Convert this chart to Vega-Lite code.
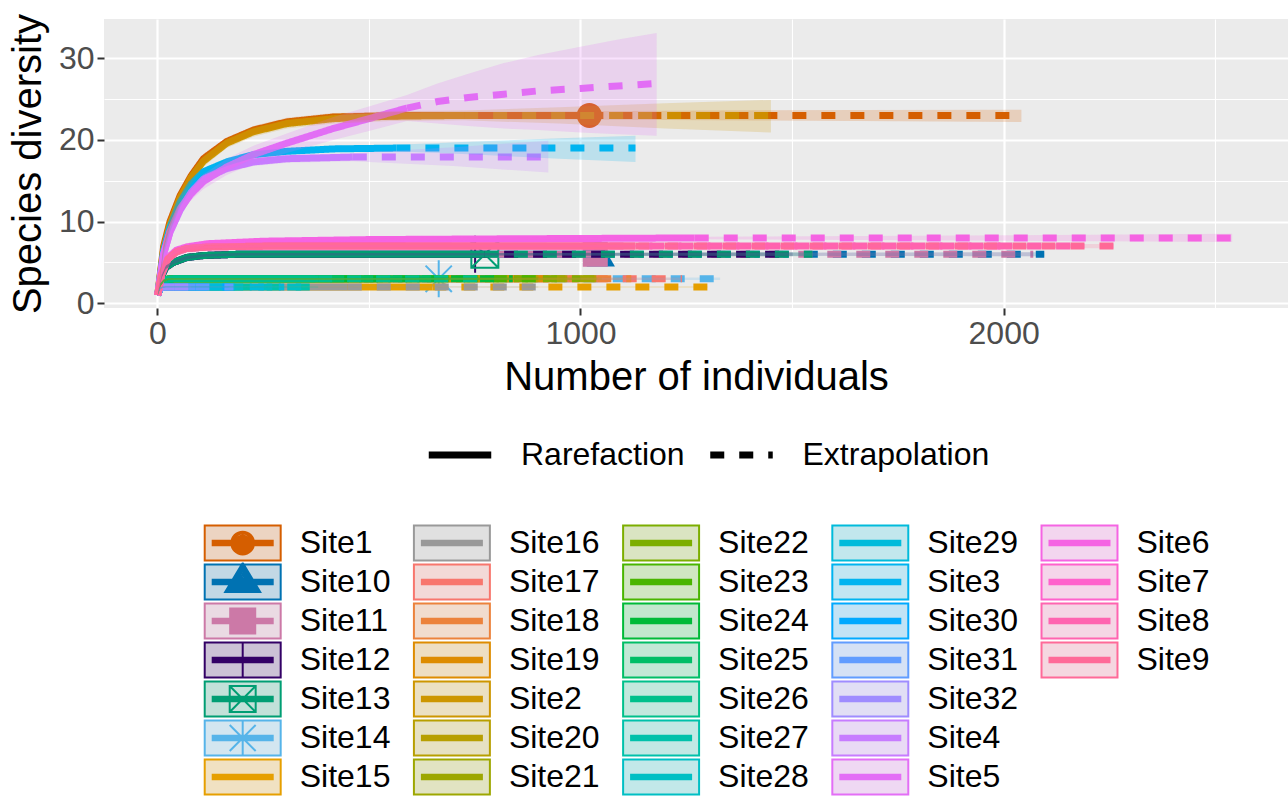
{
"$schema": "https://vega.github.io/schema/vega-lite/v6.json",
"width": 1184, "height": 289,
"autosize": {"type": "none"},
"padding": {"left": 104, "top": 19, "right": 0, "bottom": 488},
"background": "white",
"config": {"view": {"fill": "#EBEBEB", "stroke": null}, "font": "Liberation Sans"},
"resolve": {"scale": {"color": "independent"}},
"datasets": {
"obs": [
{"s":"Site1","x":1021,"y":23},{"s":"Site10","x":1048,"y":6},{"s":"Site11","x":1035,"y":6},{"s":"Site12","x":751,"y":6},{"s":"Site13","x":774,"y":6},{"s":"Site14","x":665,"y":3}
],
"curves": [
{"s":"Site1","m":"Rarefaction","x":1,"y":1,"lo":1,"hi":1},
{"s":"Site1","m":"Rarefaction","x":15,"y":7,"lo":6.5,"hi":7.5},
{"s":"Site1","m":"Rarefaction","x":30,"y":10,"lo":9.4,"hi":10.6},
{"s":"Site1","m":"Rarefaction","x":54,"y":13.2,"lo":12.6,"hi":13.8},
{"s":"Site1","m":"Rarefaction","x":80,"y":15.6,"lo":15,"hi":16.2},
{"s":"Site1","m":"Rarefaction","x":109,"y":17.7,"lo":17.1,"hi":18.3},
{"s":"Site1","m":"Rarefaction","x":164,"y":19.8,"lo":19.3,"hi":20.3},
{"s":"Site1","m":"Rarefaction","x":227,"y":21.2,"lo":20.7,"hi":21.7},
{"s":"Site1","m":"Rarefaction","x":306,"y":22.2,"lo":21.7,"hi":22.7},
{"s":"Site1","m":"Rarefaction","x":416,"y":22.8,"lo":22.3,"hi":23.3},
{"s":"Site1","m":"Rarefaction","x":600,"y":23,"lo":22.55,"hi":23.45},
{"s":"Site1","m":"Rarefaction","x":800,"y":23,"lo":22.55,"hi":23.45},
{"s":"Site1","m":"Rarefaction","x":1021,"y":23,"lo":22.5,"hi":23.5},
{"s":"Site1","m":"Extrapolation","x":1021,"y":23,"lo":22.5,"hi":23.5},
{"s":"Site1","m":"Extrapolation","x":1300,"y":23,"lo":22.4,"hi":23.6},
{"s":"Site1","m":"Extrapolation","x":1650,"y":23,"lo":22.3,"hi":23.65},
{"s":"Site1","m":"Extrapolation","x":2042,"y":23,"lo":22.2,"hi":23.7},

{"s":"Site10","m":"Rarefaction","x":1,"y":1,"lo":1,"hi":1},
{"s":"Site10","m":"Rarefaction","x":10,"y":3.3,"lo":3.1,"hi":3.5},
{"s":"Site10","m":"Rarefaction","x":20,"y":4.4,"lo":4.2,"hi":4.6},
{"s":"Site10","m":"Rarefaction","x":38,"y":5.0,"lo":4.8,"hi":5.2},
{"s":"Site10","m":"Rarefaction","x":69,"y":5.6,"lo":5.4,"hi":5.8},
{"s":"Site10","m":"Rarefaction","x":109,"y":5.85,"lo":5.7,"hi":6.0},
{"s":"Site10","m":"Rarefaction","x":190,"y":6,"lo":5.85,"hi":6.15},
{"s":"Site10","m":"Rarefaction","x":1048,"y":6,"lo":5.85,"hi":6.15},
{"s":"Site10","m":"Extrapolation","x":1048,"y":6,"lo":5.85,"hi":6.15},
{"s":"Site10","m":"Extrapolation","x":2096,"y":6,"lo":5.75,"hi":6.25},

{"s":"Site11","m":"Rarefaction","x":1,"y":1,"lo":1,"hi":1},
{"s":"Site11","m":"Rarefaction","x":10,"y":3.3,"lo":3.1,"hi":3.5},
{"s":"Site11","m":"Rarefaction","x":20,"y":4.4,"lo":4.2,"hi":4.6},
{"s":"Site11","m":"Rarefaction","x":38,"y":5.0,"lo":4.8,"hi":5.2},
{"s":"Site11","m":"Rarefaction","x":69,"y":5.6,"lo":5.4,"hi":5.8},
{"s":"Site11","m":"Rarefaction","x":109,"y":5.85,"lo":5.7,"hi":6.0},
{"s":"Site11","m":"Rarefaction","x":190,"y":6,"lo":5.85,"hi":6.15},
{"s":"Site11","m":"Rarefaction","x":1035,"y":6,"lo":5.85,"hi":6.15},
{"s":"Site11","m":"Extrapolation","x":1035,"y":6,"lo":5.85,"hi":6.15},
{"s":"Site11","m":"Extrapolation","x":2070,"y":6,"lo":5.75,"hi":6.25},

{"s":"Site12","m":"Rarefaction","x":1,"y":1,"lo":1,"hi":1},
{"s":"Site12","m":"Rarefaction","x":10,"y":3.3,"lo":3.1,"hi":3.5},
{"s":"Site12","m":"Rarefaction","x":20,"y":4.4,"lo":4.2,"hi":4.6},
{"s":"Site12","m":"Rarefaction","x":38,"y":5.0,"lo":4.8,"hi":5.2},
{"s":"Site12","m":"Rarefaction","x":69,"y":5.6,"lo":5.4,"hi":5.8},
{"s":"Site12","m":"Rarefaction","x":109,"y":5.85,"lo":5.7,"hi":6.0},
{"s":"Site12","m":"Rarefaction","x":190,"y":6,"lo":5.85,"hi":6.15},
{"s":"Site12","m":"Rarefaction","x":751,"y":6,"lo":5.85,"hi":6.15},
{"s":"Site12","m":"Extrapolation","x":751,"y":6,"lo":5.85,"hi":6.15},
{"s":"Site12","m":"Extrapolation","x":1502,"y":6,"lo":5.75,"hi":6.25},

{"s":"Site13","m":"Rarefaction","x":1,"y":1,"lo":1,"hi":1},
{"s":"Site13","m":"Rarefaction","x":10,"y":3.3,"lo":3.1,"hi":3.5},
{"s":"Site13","m":"Rarefaction","x":20,"y":4.4,"lo":4.2,"hi":4.6},
{"s":"Site13","m":"Rarefaction","x":38,"y":5.0,"lo":4.8,"hi":5.2},
{"s":"Site13","m":"Rarefaction","x":69,"y":5.6,"lo":5.4,"hi":5.8},
{"s":"Site13","m":"Rarefaction","x":109,"y":5.85,"lo":5.7,"hi":6.0},
{"s":"Site13","m":"Rarefaction","x":190,"y":6,"lo":5.85,"hi":6.15},
{"s":"Site13","m":"Rarefaction","x":774,"y":6,"lo":5.85,"hi":6.15},
{"s":"Site13","m":"Extrapolation","x":774,"y":6,"lo":5.85,"hi":6.15},
{"s":"Site13","m":"Extrapolation","x":1548,"y":6,"lo":5.75,"hi":6.25},

{"s":"Site14","m":"Rarefaction","x":1,"y":1,"lo":1,"hi":1},
{"s":"Site14","m":"Rarefaction","x":8,"y":2.3,"lo":2.15,"hi":2.45},
{"s":"Site14","m":"Rarefaction","x":15,"y":2.75,"lo":2.6,"hi":2.9},
{"s":"Site14","m":"Rarefaction","x":25,"y":2.95,"lo":2.85,"hi":3.05},
{"s":"Site14","m":"Rarefaction","x":40,"y":3,"lo":2.9,"hi":3.1},
{"s":"Site14","m":"Rarefaction","x":665,"y":3,"lo":2.9,"hi":3.1},
{"s":"Site14","m":"Extrapolation","x":665,"y":3,"lo":2.9,"hi":3.1},
{"s":"Site14","m":"Extrapolation","x":1330,"y":3,"lo":2.85,"hi":3.15},

{"s":"Site15","m":"Rarefaction","x":1,"y":1,"lo":1,"hi":1},
{"s":"Site15","m":"Rarefaction","x":6,"y":1.8,"lo":1.7,"hi":1.9},
{"s":"Site15","m":"Rarefaction","x":12,"y":1.97,"lo":1.9,"hi":2.04},
{"s":"Site15","m":"Rarefaction","x":20,"y":2,"lo":1.95,"hi":2.05},
{"s":"Site15","m":"Rarefaction","x":650,"y":2,"lo":1.95,"hi":2.05},
{"s":"Site15","m":"Extrapolation","x":650,"y":2,"lo":1.95,"hi":2.05},
{"s":"Site15","m":"Extrapolation","x":1300,"y":2,"lo":1.9,"hi":2.1},

{"s":"Site16","m":"Rarefaction","x":1,"y":1,"lo":1,"hi":1},
{"s":"Site16","m":"Rarefaction","x":6,"y":1.8,"lo":1.7,"hi":1.9},
{"s":"Site16","m":"Rarefaction","x":12,"y":1.97,"lo":1.9,"hi":2.04},
{"s":"Site16","m":"Rarefaction","x":20,"y":2,"lo":1.95,"hi":2.05},
{"s":"Site16","m":"Rarefaction","x":450,"y":2,"lo":1.95,"hi":2.05},
{"s":"Site16","m":"Extrapolation","x":450,"y":2,"lo":1.95,"hi":2.05},
{"s":"Site16","m":"Extrapolation","x":900,"y":2,"lo":1.9,"hi":2.1},

{"s":"Site17","m":"Rarefaction","x":1,"y":1,"lo":1,"hi":1},
{"s":"Site17","m":"Rarefaction","x":8,"y":2.3,"lo":2.15,"hi":2.45},
{"s":"Site17","m":"Rarefaction","x":15,"y":2.75,"lo":2.6,"hi":2.9},
{"s":"Site17","m":"Rarefaction","x":25,"y":2.95,"lo":2.85,"hi":3.05},
{"s":"Site17","m":"Rarefaction","x":40,"y":3,"lo":2.9,"hi":3.1},
{"s":"Site17","m":"Rarefaction","x":620,"y":3,"lo":2.9,"hi":3.1},
{"s":"Site17","m":"Extrapolation","x":620,"y":3,"lo":2.9,"hi":3.1},
{"s":"Site17","m":"Extrapolation","x":1240,"y":3,"lo":2.85,"hi":3.15},

{"s":"Site18","m":"Rarefaction","x":1,"y":1,"lo":1,"hi":1},
{"s":"Site18","m":"Rarefaction","x":8,"y":2.3,"lo":2.15,"hi":2.45},
{"s":"Site18","m":"Rarefaction","x":15,"y":2.75,"lo":2.6,"hi":2.9},
{"s":"Site18","m":"Rarefaction","x":25,"y":2.95,"lo":2.85,"hi":3.05},
{"s":"Site18","m":"Rarefaction","x":40,"y":3,"lo":2.9,"hi":3.1},
{"s":"Site18","m":"Rarefaction","x":560,"y":3,"lo":2.9,"hi":3.1},
{"s":"Site18","m":"Extrapolation","x":560,"y":3,"lo":2.9,"hi":3.1},
{"s":"Site18","m":"Extrapolation","x":1120,"y":3,"lo":2.85,"hi":3.15},

{"s":"Site19","m":"Rarefaction","x":1,"y":1,"lo":1,"hi":1},
{"s":"Site19","m":"Rarefaction","x":8,"y":2.3,"lo":2.15,"hi":2.45},
{"s":"Site19","m":"Rarefaction","x":15,"y":2.75,"lo":2.6,"hi":2.9},
{"s":"Site19","m":"Rarefaction","x":25,"y":2.95,"lo":2.85,"hi":3.05},
{"s":"Site19","m":"Rarefaction","x":40,"y":3,"lo":2.9,"hi":3.1},
{"s":"Site19","m":"Rarefaction","x":480,"y":3,"lo":2.9,"hi":3.1},
{"s":"Site19","m":"Extrapolation","x":480,"y":3,"lo":2.9,"hi":3.1},
{"s":"Site19","m":"Extrapolation","x":960,"y":3,"lo":2.85,"hi":3.15},

{"s":"Site2","m":"Rarefaction","x":1,"y":1,"lo":1,"hi":1},
{"s":"Site2","m":"Rarefaction","x":15,"y":6.6,"lo":6.0,"hi":7.2},
{"s":"Site2","m":"Rarefaction","x":30,"y":9.6,"lo":8.8,"hi":10.4},
{"s":"Site2","m":"Rarefaction","x":54,"y":12.9,"lo":12.1,"hi":13.7},
{"s":"Site2","m":"Rarefaction","x":80,"y":15.4,"lo":14.6,"hi":16.2},
{"s":"Site2","m":"Rarefaction","x":109,"y":17.4,"lo":16.7,"hi":18.1},
{"s":"Site2","m":"Rarefaction","x":164,"y":19.6,"lo":19.0,"hi":20.2},
{"s":"Site2","m":"Rarefaction","x":227,"y":21.0,"lo":20.4,"hi":21.6},
{"s":"Site2","m":"Rarefaction","x":306,"y":22.0,"lo":21.4,"hi":22.6},
{"s":"Site2","m":"Rarefaction","x":416,"y":22.6,"lo":22.0,"hi":23.2},
{"s":"Site2","m":"Rarefaction","x":550,"y":22.9,"lo":22.3,"hi":23.5},
{"s":"Site2","m":"Rarefaction","x":725,"y":23,"lo":22.4,"hi":23.6},
{"s":"Site2","m":"Extrapolation","x":725,"y":23,"lo":22.4,"hi":23.6},
{"s":"Site2","m":"Extrapolation","x":950,"y":23,"lo":22.0,"hi":24.0},
{"s":"Site2","m":"Extrapolation","x":1200,"y":23,"lo":21.4,"hi":24.5},
{"s":"Site2","m":"Extrapolation","x":1450,"y":23,"lo":20.9,"hi":24.9},

{"s":"Site20","m":"Rarefaction","x":1,"y":1,"lo":1,"hi":1},
{"s":"Site20","m":"Rarefaction","x":8,"y":2.3,"lo":2.15,"hi":2.45},
{"s":"Site20","m":"Rarefaction","x":15,"y":2.75,"lo":2.6,"hi":2.9},
{"s":"Site20","m":"Rarefaction","x":25,"y":2.95,"lo":2.85,"hi":3.05},
{"s":"Site20","m":"Rarefaction","x":40,"y":3,"lo":2.9,"hi":3.1},
{"s":"Site20","m":"Rarefaction","x":525,"y":3,"lo":2.9,"hi":3.1},
{"s":"Site20","m":"Extrapolation","x":525,"y":3,"lo":2.9,"hi":3.1},
{"s":"Site20","m":"Extrapolation","x":1050,"y":3,"lo":2.85,"hi":3.15},

{"s":"Site21","m":"Rarefaction","x":1,"y":1,"lo":1,"hi":1},
{"s":"Site21","m":"Rarefaction","x":8,"y":2.3,"lo":2.15,"hi":2.45},
{"s":"Site21","m":"Rarefaction","x":15,"y":2.75,"lo":2.6,"hi":2.9},
{"s":"Site21","m":"Rarefaction","x":25,"y":2.95,"lo":2.85,"hi":3.05},
{"s":"Site21","m":"Rarefaction","x":40,"y":3,"lo":2.9,"hi":3.1},
{"s":"Site21","m":"Rarefaction","x":520,"y":3,"lo":2.9,"hi":3.1},
{"s":"Site21","m":"Extrapolation","x":520,"y":3,"lo":2.9,"hi":3.1},
{"s":"Site21","m":"Extrapolation","x":1040,"y":3,"lo":2.85,"hi":3.15},

{"s":"Site22","m":"Rarefaction","x":1,"y":1,"lo":1,"hi":1},
{"s":"Site22","m":"Rarefaction","x":8,"y":2.3,"lo":2.15,"hi":2.45},
{"s":"Site22","m":"Rarefaction","x":15,"y":2.75,"lo":2.6,"hi":2.9},
{"s":"Site22","m":"Rarefaction","x":25,"y":2.95,"lo":2.85,"hi":3.05},
{"s":"Site22","m":"Rarefaction","x":40,"y":3,"lo":2.9,"hi":3.1},
{"s":"Site22","m":"Rarefaction","x":500,"y":3,"lo":2.9,"hi":3.1},
{"s":"Site22","m":"Extrapolation","x":500,"y":3,"lo":2.9,"hi":3.1},
{"s":"Site22","m":"Extrapolation","x":1000,"y":3,"lo":2.85,"hi":3.15},

{"s":"Site23","m":"Rarefaction","x":1,"y":1,"lo":1,"hi":1},
{"s":"Site23","m":"Rarefaction","x":8,"y":2.3,"lo":2.15,"hi":2.45},
{"s":"Site23","m":"Rarefaction","x":15,"y":2.75,"lo":2.6,"hi":2.9},
{"s":"Site23","m":"Rarefaction","x":25,"y":2.95,"lo":2.85,"hi":3.05},
{"s":"Site23","m":"Rarefaction","x":40,"y":3,"lo":2.9,"hi":3.1},
{"s":"Site23","m":"Rarefaction","x":450,"y":3,"lo":2.9,"hi":3.1},
{"s":"Site23","m":"Extrapolation","x":450,"y":3,"lo":2.9,"hi":3.1},
{"s":"Site23","m":"Extrapolation","x":900,"y":3,"lo":2.85,"hi":3.15},

{"s":"Site24","m":"Rarefaction","x":1,"y":1,"lo":1,"hi":1},
{"s":"Site24","m":"Rarefaction","x":8,"y":2.3,"lo":2.15,"hi":2.45},
{"s":"Site24","m":"Rarefaction","x":15,"y":2.75,"lo":2.6,"hi":2.9},
{"s":"Site24","m":"Rarefaction","x":25,"y":2.95,"lo":2.85,"hi":3.05},
{"s":"Site24","m":"Rarefaction","x":40,"y":3,"lo":2.9,"hi":3.1},
{"s":"Site24","m":"Rarefaction","x":420,"y":3,"lo":2.9,"hi":3.1},
{"s":"Site24","m":"Extrapolation","x":420,"y":3,"lo":2.9,"hi":3.1},
{"s":"Site24","m":"Extrapolation","x":840,"y":3,"lo":2.85,"hi":3.15},

{"s":"Site25","m":"Rarefaction","x":1,"y":1,"lo":1,"hi":1},
{"s":"Site25","m":"Rarefaction","x":8,"y":2.3,"lo":2.15,"hi":2.45},
{"s":"Site25","m":"Rarefaction","x":15,"y":2.75,"lo":2.6,"hi":2.9},
{"s":"Site25","m":"Rarefaction","x":25,"y":2.95,"lo":2.85,"hi":3.05},
{"s":"Site25","m":"Rarefaction","x":40,"y":3,"lo":2.9,"hi":3.1},
{"s":"Site25","m":"Rarefaction","x":340,"y":3,"lo":2.9,"hi":3.1},
{"s":"Site25","m":"Extrapolation","x":340,"y":3,"lo":2.9,"hi":3.1},
{"s":"Site25","m":"Extrapolation","x":680,"y":3,"lo":2.85,"hi":3.15},

{"s":"Site26","m":"Rarefaction","x":1,"y":1,"lo":1,"hi":1},
{"s":"Site26","m":"Rarefaction","x":8,"y":2.3,"lo":2.15,"hi":2.45},
{"s":"Site26","m":"Rarefaction","x":15,"y":2.75,"lo":2.6,"hi":2.9},
{"s":"Site26","m":"Rarefaction","x":25,"y":2.95,"lo":2.85,"hi":3.05},
{"s":"Site26","m":"Rarefaction","x":40,"y":3,"lo":2.9,"hi":3.1},
{"s":"Site26","m":"Rarefaction","x":380,"y":3,"lo":2.9,"hi":3.1},
{"s":"Site26","m":"Extrapolation","x":380,"y":3,"lo":2.9,"hi":3.1},
{"s":"Site26","m":"Extrapolation","x":760,"y":3,"lo":2.85,"hi":3.15},

{"s":"Site27","m":"Rarefaction","x":1,"y":1,"lo":1,"hi":1},
{"s":"Site27","m":"Rarefaction","x":6,"y":1.8,"lo":1.7,"hi":1.9},
{"s":"Site27","m":"Rarefaction","x":12,"y":1.97,"lo":1.9,"hi":2.04},
{"s":"Site27","m":"Rarefaction","x":20,"y":2,"lo":1.95,"hi":2.05},
{"s":"Site27","m":"Rarefaction","x":190,"y":2,"lo":1.95,"hi":2.05},
{"s":"Site27","m":"Extrapolation","x":190,"y":2,"lo":1.95,"hi":2.05},
{"s":"Site27","m":"Extrapolation","x":380,"y":2,"lo":1.9,"hi":2.1},

{"s":"Site28","m":"Rarefaction","x":1,"y":1,"lo":1,"hi":1},
{"s":"Site28","m":"Rarefaction","x":6,"y":1.8,"lo":1.7,"hi":1.9},
{"s":"Site28","m":"Rarefaction","x":12,"y":1.97,"lo":1.9,"hi":2.04},
{"s":"Site28","m":"Rarefaction","x":20,"y":2,"lo":1.95,"hi":2.05},
{"s":"Site28","m":"Rarefaction","x":170,"y":2,"lo":1.95,"hi":2.05},
{"s":"Site28","m":"Extrapolation","x":170,"y":2,"lo":1.95,"hi":2.05},
{"s":"Site28","m":"Extrapolation","x":340,"y":2,"lo":1.9,"hi":2.1},

{"s":"Site29","m":"Rarefaction","x":1,"y":1,"lo":1,"hi":1},
{"s":"Site29","m":"Rarefaction","x":6,"y":1.8,"lo":1.7,"hi":1.9},
{"s":"Site29","m":"Rarefaction","x":12,"y":1.97,"lo":1.9,"hi":2.04},
{"s":"Site29","m":"Rarefaction","x":20,"y":2,"lo":1.95,"hi":2.05},
{"s":"Site29","m":"Rarefaction","x":150,"y":2,"lo":1.95,"hi":2.05},
{"s":"Site29","m":"Extrapolation","x":150,"y":2,"lo":1.95,"hi":2.05},
{"s":"Site29","m":"Extrapolation","x":300,"y":2,"lo":1.9,"hi":2.1},

{"s":"Site3","m":"Rarefaction","x":1,"y":1,"lo":1,"hi":1},
{"s":"Site3","m":"Rarefaction","x":15,"y":6.4,"lo":5.9,"hi":6.9},
{"s":"Site3","m":"Rarefaction","x":30,"y":9.3,"lo":8.7,"hi":9.9},
{"s":"Site3","m":"Rarefaction","x":54,"y":12.4,"lo":11.8,"hi":13.0},
{"s":"Site3","m":"Rarefaction","x":80,"y":14.6,"lo":14.0,"hi":15.2},
{"s":"Site3","m":"Rarefaction","x":109,"y":16.1,"lo":15.6,"hi":16.6},
{"s":"Site3","m":"Rarefaction","x":164,"y":17.3,"lo":16.8,"hi":17.8},
{"s":"Site3","m":"Rarefaction","x":227,"y":18.2,"lo":17.8,"hi":18.6},
{"s":"Site3","m":"Rarefaction","x":306,"y":18.6,"lo":18.2,"hi":19.0},
{"s":"Site3","m":"Rarefaction","x":416,"y":18.9,"lo":18.5,"hi":19.3},
{"s":"Site3","m":"Rarefaction","x":565,"y":19,"lo":18.6,"hi":19.4},
{"s":"Site3","m":"Extrapolation","x":565,"y":19,"lo":18.6,"hi":19.4},
{"s":"Site3","m":"Extrapolation","x":750,"y":19,"lo":18.2,"hi":19.8},
{"s":"Site3","m":"Extrapolation","x":950,"y":19,"lo":17.7,"hi":20.2},
{"s":"Site3","m":"Extrapolation","x":1130,"y":19,"lo":17.3,"hi":20.5},

{"s":"Site30","m":"Rarefaction","x":1,"y":1,"lo":1,"hi":1},
{"s":"Site30","m":"Rarefaction","x":6,"y":1.8,"lo":1.7,"hi":1.9},
{"s":"Site30","m":"Rarefaction","x":12,"y":1.97,"lo":1.9,"hi":2.04},
{"s":"Site30","m":"Rarefaction","x":20,"y":2,"lo":1.95,"hi":2.05},
{"s":"Site30","m":"Rarefaction","x":85,"y":2,"lo":1.95,"hi":2.05},
{"s":"Site30","m":"Extrapolation","x":85,"y":2,"lo":1.95,"hi":2.05},
{"s":"Site30","m":"Extrapolation","x":170,"y":2,"lo":1.9,"hi":2.1},

{"s":"Site31","m":"Rarefaction","x":1,"y":1,"lo":1,"hi":1},
{"s":"Site31","m":"Rarefaction","x":6,"y":1.8,"lo":1.7,"hi":1.9},
{"s":"Site31","m":"Rarefaction","x":12,"y":1.97,"lo":1.9,"hi":2.04},
{"s":"Site31","m":"Rarefaction","x":20,"y":2,"lo":1.95,"hi":2.05},
{"s":"Site31","m":"Rarefaction","x":90,"y":2,"lo":1.95,"hi":2.05},
{"s":"Site31","m":"Extrapolation","x":90,"y":2,"lo":1.95,"hi":2.05},
{"s":"Site31","m":"Extrapolation","x":180,"y":2,"lo":1.9,"hi":2.1},

{"s":"Site32","m":"Rarefaction","x":1,"y":1,"lo":1,"hi":1},
{"s":"Site32","m":"Rarefaction","x":6,"y":1.8,"lo":1.7,"hi":1.9},
{"s":"Site32","m":"Rarefaction","x":12,"y":1.97,"lo":1.9,"hi":2.04},
{"s":"Site32","m":"Rarefaction","x":20,"y":2,"lo":1.95,"hi":2.05},
{"s":"Site32","m":"Rarefaction","x":40,"y":2,"lo":1.95,"hi":2.05},
{"s":"Site32","m":"Extrapolation","x":40,"y":2,"lo":1.95,"hi":2.05},
{"s":"Site32","m":"Extrapolation","x":80,"y":2,"lo":1.9,"hi":2.1},

{"s":"Site4","m":"Rarefaction","x":1,"y":1,"lo":1,"hi":1},
{"s":"Site4","m":"Rarefaction","x":15,"y":6.1,"lo":5.6,"hi":6.6},
{"s":"Site4","m":"Rarefaction","x":30,"y":8.7,"lo":8.1,"hi":9.3},
{"s":"Site4","m":"Rarefaction","x":54,"y":11.4,"lo":10.8,"hi":12.0},
{"s":"Site4","m":"Rarefaction","x":80,"y":13.6,"lo":13.0,"hi":14.2},
{"s":"Site4","m":"Rarefaction","x":109,"y":15.2,"lo":14.6,"hi":15.8},
{"s":"Site4","m":"Rarefaction","x":164,"y":16.5,"lo":16.0,"hi":17.0},
{"s":"Site4","m":"Rarefaction","x":227,"y":17.3,"lo":16.8,"hi":17.8},
{"s":"Site4","m":"Rarefaction","x":306,"y":17.7,"lo":17.2,"hi":18.2},
{"s":"Site4","m":"Rarefaction","x":462,"y":17.9,"lo":17.4,"hi":18.4},
{"s":"Site4","m":"Extrapolation","x":462,"y":17.9,"lo":17.4,"hi":18.4},
{"s":"Site4","m":"Extrapolation","x":700,"y":17.9,"lo":16.8,"hi":19.1},
{"s":"Site4","m":"Extrapolation","x":924,"y":17.9,"lo":16.0,"hi":19.9},

{"s":"Site5","m":"Rarefaction","x":1,"y":1,"lo":1,"hi":1},
{"s":"Site5","m":"Rarefaction","x":15,"y":6.0,"lo":5.5,"hi":6.5},
{"s":"Site5","m":"Rarefaction","x":30,"y":8.8,"lo":8.2,"hi":9.4},
{"s":"Site5","m":"Rarefaction","x":54,"y":11.6,"lo":10.9,"hi":12.3},
{"s":"Site5","m":"Rarefaction","x":80,"y":13.4,"lo":12.6,"hi":14.2},
{"s":"Site5","m":"Rarefaction","x":109,"y":14.9,"lo":14.0,"hi":15.8},
{"s":"Site5","m":"Rarefaction","x":164,"y":16.7,"lo":15.7,"hi":17.7},
{"s":"Site5","m":"Rarefaction","x":227,"y":18.2,"lo":17.1,"hi":19.3},
{"s":"Site5","m":"Rarefaction","x":306,"y":19.6,"lo":18.4,"hi":20.8},
{"s":"Site5","m":"Rarefaction","x":416,"y":21.4,"lo":20.0,"hi":22.8},
{"s":"Site5","m":"Rarefaction","x":500,"y":22.6,"lo":21.1,"hi":24.1},
{"s":"Site5","m":"Rarefaction","x":590,"y":23.9,"lo":22.3,"hi":25.5},
{"s":"Site5","m":"Extrapolation","x":590,"y":23.9,"lo":22.3,"hi":25.5},
{"s":"Site5","m":"Extrapolation","x":662,"y":24.7,"lo":22.0,"hi":26.9},
{"s":"Site5","m":"Extrapolation","x":735,"y":25.2,"lo":21.7,"hi":28.1},
{"s":"Site5","m":"Extrapolation","x":819,"y":25.6,"lo":21.4,"hi":29.4},
{"s":"Site5","m":"Extrapolation","x":900,"y":26.0,"lo":21.2,"hi":30.4},
{"s":"Site5","m":"Extrapolation","x":1000,"y":26.3,"lo":20.9,"hi":31.4},
{"s":"Site5","m":"Extrapolation","x":1089,"y":26.6,"lo":20.7,"hi":32.3},
{"s":"Site5","m":"Extrapolation","x":1180,"y":26.9,"lo":20.5,"hi":33.1},

{"s":"Site6","m":"Rarefaction","x":1,"y":1,"lo":1,"hi":1},
{"s":"Site6","m":"Rarefaction","x":10,"y":3.6,"lo":3.4,"hi":3.8},
{"s":"Site6","m":"Rarefaction","x":25,"y":5.6,"lo":5.4,"hi":5.8},
{"s":"Site6","m":"Rarefaction","x":45,"y":6.5,"lo":6.3,"hi":6.7},
{"s":"Site6","m":"Rarefaction","x":69,"y":6.9,"lo":6.7,"hi":7.1},
{"s":"Site6","m":"Rarefaction","x":120,"y":7.3,"lo":7.15,"hi":7.45},
{"s":"Site6","m":"Rarefaction","x":250,"y":7.6,"lo":7.45,"hi":7.75},
{"s":"Site6","m":"Rarefaction","x":500,"y":7.8,"lo":7.65,"hi":7.95},
{"s":"Site6","m":"Rarefaction","x":850,"y":7.9,"lo":7.75,"hi":8.05},
{"s":"Site6","m":"Rarefaction","x":1270,"y":8,"lo":7.85,"hi":8.15},
{"s":"Site6","m":"Extrapolation","x":1270,"y":8,"lo":7.85,"hi":8.15},
{"s":"Site6","m":"Extrapolation","x":1900,"y":8,"lo":7.7,"hi":8.3},
{"s":"Site6","m":"Extrapolation","x":2540,"y":8,"lo":7.5,"hi":8.5},

{"s":"Site7","m":"Rarefaction","x":1,"y":1,"lo":1,"hi":1},
{"s":"Site7","m":"Rarefaction","x":10,"y":3.5,"lo":3.3,"hi":3.7},
{"s":"Site7","m":"Rarefaction","x":25,"y":5.4,"lo":5.2,"hi":5.6},
{"s":"Site7","m":"Rarefaction","x":45,"y":6.3,"lo":6.1,"hi":6.5},
{"s":"Site7","m":"Rarefaction","x":69,"y":6.7,"lo":6.5,"hi":6.9},
{"s":"Site7","m":"Rarefaction","x":120,"y":6.9,"lo":6.75,"hi":7.05},
{"s":"Site7","m":"Rarefaction","x":250,"y":7,"lo":6.85,"hi":7.15},
{"s":"Site7","m":"Rarefaction","x":1000,"y":7,"lo":6.85,"hi":7.15},
{"s":"Site7","m":"Extrapolation","x":1000,"y":7,"lo":6.85,"hi":7.15},
{"s":"Site7","m":"Extrapolation","x":2000,"y":7,"lo":6.75,"hi":7.25},

{"s":"Site8","m":"Rarefaction","x":1,"y":1,"lo":1,"hi":1},
{"s":"Site8","m":"Rarefaction","x":10,"y":3.5,"lo":3.3,"hi":3.7},
{"s":"Site8","m":"Rarefaction","x":25,"y":5.4,"lo":5.2,"hi":5.6},
{"s":"Site8","m":"Rarefaction","x":45,"y":6.3,"lo":6.1,"hi":6.5},
{"s":"Site8","m":"Rarefaction","x":69,"y":6.7,"lo":6.5,"hi":6.9},
{"s":"Site8","m":"Rarefaction","x":120,"y":6.9,"lo":6.75,"hi":7.05},
{"s":"Site8","m":"Rarefaction","x":250,"y":7,"lo":6.85,"hi":7.15},
{"s":"Site8","m":"Rarefaction","x":1096,"y":7,"lo":6.85,"hi":7.15},
{"s":"Site8","m":"Extrapolation","x":1096,"y":7,"lo":6.85,"hi":7.15},
{"s":"Site8","m":"Extrapolation","x":2192,"y":7,"lo":6.75,"hi":7.25},

{"s":"Site9","m":"Rarefaction","x":1,"y":1,"lo":1,"hi":1},
{"s":"Site9","m":"Rarefaction","x":10,"y":3.5,"lo":3.3,"hi":3.7},
{"s":"Site9","m":"Rarefaction","x":25,"y":5.4,"lo":5.2,"hi":5.6},
{"s":"Site9","m":"Rarefaction","x":45,"y":6.3,"lo":6.1,"hi":6.5},
{"s":"Site9","m":"Rarefaction","x":69,"y":6.7,"lo":6.5,"hi":6.9},
{"s":"Site9","m":"Rarefaction","x":120,"y":6.9,"lo":6.75,"hi":7.05},
{"s":"Site9","m":"Rarefaction","x":250,"y":7,"lo":6.85,"hi":7.15},
{"s":"Site9","m":"Rarefaction","x":1130,"y":7,"lo":6.85,"hi":7.15},
{"s":"Site9","m":"Extrapolation","x":1130,"y":7,"lo":6.85,"hi":7.15},
{"s":"Site9","m":"Extrapolation","x":2260,"y":7,"lo":6.75,"hi":7.25}
]
},
"layer": [
{
"data": {"name": "curves"},
"transform": [{"filter": "datum.x < -5000"}],
"mark": {"type": "point", "filled": true, "opacity": 1, "strokeWidth": 2, "size": 6084},
"encoding": {
"x": {"field": "x", "type": "quantitative", "scale": {"domain": [-126, 2672], "nice": false, "zero": false},
 "axis": {"title": "Number of individuals", "values": [0,500,1000,1500,2000,2500], "format": "d",
  "labelExpr": "datum.value % 1000 === 0 ? datum.label : ''", "labelOverlap": false, "labelFlush": false,
  "grid": true, "gridColor": "white", "gridWidth": {"condition": {"test": "datum.value % 1000 === 0", "value": 2.2}, "value": 1.1},
  "domain": false, "tickColor": "#333333", "tickSize": 7, "tickWidth": 2,
  "tickOpacity": {"condition": {"test": "datum.value % 1000 === 0", "value": 1}, "value": 0},
  "labelFont": "Liberation Sans", "labelFontSize": 32, "labelColor": "#4D4D4D", "labelPadding": 3,
  "titleFont": "Liberation Sans", "titleFontSize": 40, "titleFontWeight": "normal", "titleColor": "black", "titlePadding": 8}},
"y": {"field": "y", "type": "quantitative", "scale": {"domain": [-0.575, 34.8], "nice": false, "zero": false},
 "axis": {"title": "Species diversity", "values": [0,5,10,15,20,25,30], "format": "d",
  "labelExpr": "datum.value % 10 === 0 ? datum.label : ''", "labelOverlap": false, "labelFlush": false,
  "grid": true, "gridColor": "white", "gridWidth": {"condition": {"test": "datum.value % 10 === 0", "value": 2.2}, "value": 1.1},
  "domain": false, "tickColor": "#333333", "tickSize": 7, "tickWidth": 2,
  "tickOpacity": {"condition": {"test": "datum.value % 10 === 0", "value": 1}, "value": 0},
  "labelFont": "Liberation Sans", "labelFontSize": 32, "labelColor": "#4D4D4D", "labelPadding": 3,
  "titleFont": "Liberation Sans", "titleFontSize": 40, "titleFontWeight": "normal", "titleColor": "black", "titlePadding": 10}},
"fill": {"field": "s", "type": "nominal",
 "scale": {"domain": ["Site1","Site10","Site11","Site12","Site13","Site14","Site15","Site16","Site17","Site18","Site19","Site2","Site20","Site21","Site22","Site23","Site24","Site25","Site26","Site27","Site28","Site29","Site3","Site30","Site31","Site32","Site4","Site5","Site6","Site7","Site8","Site9","zpad1","zpad2"],
  "range": ["#ECD4C2","#C2D8E5","#EADAE3","#CCC2D6","#C2E1D9","#D3E6F0","#F0E1C2","#E0E0E0","#F3D9D7","#F1DCCE","#EEDEC2","#EBE0C2","#E6E1C2","#E1E3C2","#DAE4C2","#D0E6C2","#C2E7CD","#C2E8D6","#C2E8DD","#C2E8E4","#C2E8E9","#C2E7ED","#C2E6F2","#C2E3F5","#D5E1F5","#E1DEF5","#E9DAF5","#EFD8F3","#F3D6EF","#F5D5EA","#F5D6E5","#F5D7E0","rgba(0,0,0,0)","rgba(0,0,0,0)"]},
 "legend": {"title": null, "orient": "none", "direction": "vertical", "columns": 5, "symbolLimit": 40, "legendX": 98.7, "legendY": 504.6, "clipHeight": 38.8, "symbolSize": 6084, "symbolStrokeWidth": 2, "symbolOpacity": 1, "labelFont": "Liberation Sans", "labelFontSize": 32, "labelColor": "black", "labelOffset": 17, "labelLimit": 0, "columnPadding": 21.2, "rowPadding": 0, "padding": 0, "labelExpr": "indexof(datum.label, 'zpad') === 0 ? '' : datum.label"}},
"stroke": {"field": "s", "type": "nominal",
 "scale": {"domain": ["Site1","Site10","Site11","Site12","Site13","Site14","Site15","Site16","Site17","Site18","Site19","Site2","Site20","Site21","Site22","Site23","Site24","Site25","Site26","Site27","Site28","Site29","Site3","Site30","Site31","Site32","Site4","Site5","Site6","Site7","Site8","Site9","zpad1","zpad2"],
  "range": ["#D55E00","#0072B2","#CC79A7","#330066","#009E73","#56B4E9","#E69F00","#999999","#F8766D","#EC823C","#DE8C00","#CD9600","#B79F00","#9DA700","#7CAE00","#49B500","#00BA38","#00BE67","#00C08B","#00C1AA","#00BFC4","#00BBDB","#00B4F0","#00A9FF","#619CFF","#9F8CFF","#C77CFF","#E36EF6","#F564E3","#FF61CC","#FF64B0","#FF6A98","rgba(0,0,0,0)","rgba(0,0,0,0)"]},
 "legend": {"title": null, "orient": "none", "direction": "vertical", "columns": 5, "symbolLimit": 40, "legendX": 98.7, "legendY": 504.6, "clipHeight": 38.8, "symbolSize": 6084, "symbolStrokeWidth": 2, "symbolOpacity": 1, "labelFont": "Liberation Sans", "labelFontSize": 32, "labelColor": "black", "labelOffset": 17, "labelLimit": 0, "columnPadding": 21.2, "rowPadding": 0, "padding": 0, "labelExpr": "indexof(datum.label, 'zpad') === 0 ? '' : datum.label"}},
"shape": {"field": "s", "type": "nominal",
 "scale": {"domain": ["Site1","Site10","Site11","Site12","Site13","Site14","Site15","Site16","Site17","Site18","Site19","Site2","Site20","Site21","Site22","Site23","Site24","Site25","Site26","Site27","Site28","Site29","Site3","Site30","Site31","Site32","Site4","Site5","Site6","Site7","Site8","Site9","zpad1","zpad2"],
  "range": [
"M-0.974,-0.449H0.974V0.449H-0.974ZM-0.795,-0.058H0.795M-0.795,-0.029H0.795M-0.795,0H0.795M-0.795,0.029H0.795M-0.795,0.058H0.795M0.292,0A0.292,0.292 0 1,1 -0.292,0A0.292,0.292 0 1,1 0.292,0ZM0.244,0A0.244,0.244 0 1,1 -0.244,0A0.244,0.244 0 1,1 0.244,0ZM0.195,0A0.195,0.195 0 1,1 -0.195,0A0.195,0.195 0 1,1 0.195,0ZM0.146,0A0.146,0.146 0 1,1 -0.146,0A0.146,0.146 0 1,1 0.146,0ZM0.097,0A0.097,0.097 0 1,1 -0.097,0A0.097,0.097 0 1,1 0.097,0ZM0.049,0A0.049,0.049 0 1,1 -0.049,0A0.049,0.049 0 1,1 0.049,0Z",
"M-0.974,-0.449H0.974V0.449H-0.974ZM-0.795,-0.058H0.795M-0.795,-0.029H0.795M-0.795,0H0.795M-0.795,0.029H0.795M-0.795,0.058H0.795M0,-0.49L0.449,0.256L-0.449,0.256ZM0,-0.392L0.359,0.205L-0.359,0.205ZM0,-0.294L0.269,0.154L-0.269,0.154ZM0,-0.196L0.18,0.103L-0.18,0.103ZM0,-0.098L0.09,0.051L-0.09,0.051Z",
"M-0.974,-0.449H0.974V0.449H-0.974ZM-0.795,-0.058H0.795M-0.795,-0.029H0.795M-0.795,0H0.795M-0.795,0.029H0.795M-0.795,0.058H0.795M-0.321,-0.321H0.321V0.321H-0.321ZM-0.272,-0.272H0.272V0.272H-0.272ZM-0.223,-0.223H0.223V0.223H-0.223ZM-0.174,-0.174H0.174V0.174H-0.174ZM-0.125,-0.125H0.125V0.125H-0.125ZM-0.076,-0.076H0.076V0.076H-0.076ZM-0.027,-0.027H0.027V0.027H-0.027Z",
"M-0.974,-0.449H0.974V0.449H-0.974ZM-0.795,-0.058H0.795M-0.795,-0.029H0.795M-0.795,0H0.795M-0.795,0.029H0.795M-0.795,0.058H0.795M0,-0.449V0.449",
"M-0.974,-0.449H0.974V0.449H-0.974ZM-0.795,-0.058H0.795M-0.795,-0.029H0.795M-0.795,0H0.795M-0.795,0.029H0.795M-0.795,0.058H0.795M-0.333,-0.333H0.333V0.333H-0.333ZM-0.333,-0.333L0.333,0.333M0.333,-0.333L-0.333,0.333",
"M-0.974,-0.449H0.974V0.449H-0.974ZM-0.795,-0.058H0.795M-0.795,-0.029H0.795M-0.795,0H0.795M-0.795,0.029H0.795M-0.795,0.058H0.795M0,-0.449V0.449M-0.333,-0.333L0.333,0.333M0.333,-0.333L-0.333,0.333",
"M-0.974,-0.449H0.974V0.449H-0.974ZM-0.795,-0.058H0.795M-0.795,-0.029H0.795M-0.795,0H0.795M-0.795,0.029H0.795M-0.795,0.058H0.795",
"M-0.974,-0.449H0.974V0.449H-0.974ZM-0.795,-0.058H0.795M-0.795,-0.029H0.795M-0.795,0H0.795M-0.795,0.029H0.795M-0.795,0.058H0.795",
"M-0.974,-0.449H0.974V0.449H-0.974ZM-0.795,-0.058H0.795M-0.795,-0.029H0.795M-0.795,0H0.795M-0.795,0.029H0.795M-0.795,0.058H0.795",
"M-0.974,-0.449H0.974V0.449H-0.974ZM-0.795,-0.058H0.795M-0.795,-0.029H0.795M-0.795,0H0.795M-0.795,0.029H0.795M-0.795,0.058H0.795",
"M-0.974,-0.449H0.974V0.449H-0.974ZM-0.795,-0.058H0.795M-0.795,-0.029H0.795M-0.795,0H0.795M-0.795,0.029H0.795M-0.795,0.058H0.795",
"M-0.974,-0.449H0.974V0.449H-0.974ZM-0.795,-0.058H0.795M-0.795,-0.029H0.795M-0.795,0H0.795M-0.795,0.029H0.795M-0.795,0.058H0.795",
"M-0.974,-0.449H0.974V0.449H-0.974ZM-0.795,-0.058H0.795M-0.795,-0.029H0.795M-0.795,0H0.795M-0.795,0.029H0.795M-0.795,0.058H0.795",
"M-0.974,-0.449H0.974V0.449H-0.974ZM-0.795,-0.058H0.795M-0.795,-0.029H0.795M-0.795,0H0.795M-0.795,0.029H0.795M-0.795,0.058H0.795",
"M-0.974,-0.449H0.974V0.449H-0.974ZM-0.795,-0.058H0.795M-0.795,-0.029H0.795M-0.795,0H0.795M-0.795,0.029H0.795M-0.795,0.058H0.795",
"M-0.974,-0.449H0.974V0.449H-0.974ZM-0.795,-0.058H0.795M-0.795,-0.029H0.795M-0.795,0H0.795M-0.795,0.029H0.795M-0.795,0.058H0.795",
"M-0.974,-0.449H0.974V0.449H-0.974ZM-0.795,-0.058H0.795M-0.795,-0.029H0.795M-0.795,0H0.795M-0.795,0.029H0.795M-0.795,0.058H0.795",
"M-0.974,-0.449H0.974V0.449H-0.974ZM-0.795,-0.058H0.795M-0.795,-0.029H0.795M-0.795,0H0.795M-0.795,0.029H0.795M-0.795,0.058H0.795",
"M-0.974,-0.449H0.974V0.449H-0.974ZM-0.795,-0.058H0.795M-0.795,-0.029H0.795M-0.795,0H0.795M-0.795,0.029H0.795M-0.795,0.058H0.795",
"M-0.974,-0.449H0.974V0.449H-0.974ZM-0.795,-0.058H0.795M-0.795,-0.029H0.795M-0.795,0H0.795M-0.795,0.029H0.795M-0.795,0.058H0.795",
"M-0.974,-0.449H0.974V0.449H-0.974ZM-0.795,-0.058H0.795M-0.795,-0.029H0.795M-0.795,0H0.795M-0.795,0.029H0.795M-0.795,0.058H0.795",
"M-0.974,-0.449H0.974V0.449H-0.974ZM-0.795,-0.058H0.795M-0.795,-0.029H0.795M-0.795,0H0.795M-0.795,0.029H0.795M-0.795,0.058H0.795",
"M-0.974,-0.449H0.974V0.449H-0.974ZM-0.795,-0.058H0.795M-0.795,-0.029H0.795M-0.795,0H0.795M-0.795,0.029H0.795M-0.795,0.058H0.795",
"M-0.974,-0.449H0.974V0.449H-0.974ZM-0.795,-0.058H0.795M-0.795,-0.029H0.795M-0.795,0H0.795M-0.795,0.029H0.795M-0.795,0.058H0.795",
"M-0.974,-0.449H0.974V0.449H-0.974ZM-0.795,-0.058H0.795M-0.795,-0.029H0.795M-0.795,0H0.795M-0.795,0.029H0.795M-0.795,0.058H0.795",
"M-0.974,-0.449H0.974V0.449H-0.974ZM-0.795,-0.058H0.795M-0.795,-0.029H0.795M-0.795,0H0.795M-0.795,0.029H0.795M-0.795,0.058H0.795",
"M-0.974,-0.449H0.974V0.449H-0.974ZM-0.795,-0.058H0.795M-0.795,-0.029H0.795M-0.795,0H0.795M-0.795,0.029H0.795M-0.795,0.058H0.795",
"M-0.974,-0.449H0.974V0.449H-0.974ZM-0.795,-0.058H0.795M-0.795,-0.029H0.795M-0.795,0H0.795M-0.795,0.029H0.795M-0.795,0.058H0.795",
"M-0.974,-0.449H0.974V0.449H-0.974ZM-0.795,-0.058H0.795M-0.795,-0.029H0.795M-0.795,0H0.795M-0.795,0.029H0.795M-0.795,0.058H0.795",
"M-0.974,-0.449H0.974V0.449H-0.974ZM-0.795,-0.058H0.795M-0.795,-0.029H0.795M-0.795,0H0.795M-0.795,0.029H0.795M-0.795,0.058H0.795",
"M-0.974,-0.449H0.974V0.449H-0.974ZM-0.795,-0.058H0.795M-0.795,-0.029H0.795M-0.795,0H0.795M-0.795,0.029H0.795M-0.795,0.058H0.795",
"M-0.974,-0.449H0.974V0.449H-0.974ZM-0.795,-0.058H0.795M-0.795,-0.029H0.795M-0.795,0H0.795M-0.795,0.029H0.795M-0.795,0.058H0.795",
"M0,0",
"M0,0"
 ]},
 "legend": {"title": null, "orient": "none", "direction": "vertical", "columns": 5, "symbolLimit": 40, "legendX": 98.7, "legendY": 504.6, "clipHeight": 38.8, "symbolSize": 6084, "symbolStrokeWidth": 2, "symbolOpacity": 1, "labelFont": "Liberation Sans", "labelFontSize": 32, "labelColor": "black", "labelOffset": 17, "labelLimit": 0, "columnPadding": 21.2, "rowPadding": 0, "padding": 0, "labelExpr": "indexof(datum.label, 'zpad') === 0 ? '' : datum.label"}}
}
},
{
"data": {"name": "obs"},
"transform": [{"filter": "datum.s === 'Site1'"}],
"mark": {"type": "point", "shape": "circle", "filled": true, "opacity": 1, "size": 625},
"encoding": {
"x": {"field": "x", "type": "quantitative", "scale": {"domain": [-126, 2672], "nice": false, "zero": false}},
"y": {"field": "y", "type": "quantitative", "scale": {"domain": [-0.575, 34.8], "nice": false, "zero": false}},
"color": {"field": "s", "type": "nominal", "legend": null,
 "scale": {"domain": ["Site1","Site10","Site11","Site12","Site13","Site14"], "range": ["#D55E00","#0072B2","#CC79A7","#330066","#009E73","#56B4E9"]}}
}
},
{
"data": {"name": "obs"},
"transform": [{"filter": "datum.s === 'Site10'"}],
"mark": {"type": "point", "shape": "triangle-up", "filled": true, "opacity": 1, "size": 800},
"encoding": {
"x": {"field": "x", "type": "quantitative", "scale": {"domain": [-126, 2672], "nice": false, "zero": false}},
"y": {"field": "y", "type": "quantitative", "scale": {"domain": [-0.575, 34.8], "nice": false, "zero": false}},
"color": {"field": "s", "type": "nominal", "legend": null,
 "scale": {"domain": ["Site1","Site10","Site11","Site12","Site13","Site14"], "range": ["#D55E00","#0072B2","#CC79A7","#330066","#009E73","#56B4E9"]}}
}
},
{
"data": {"name": "obs"},
"transform": [{"filter": "datum.s === 'Site11'"}],
"mark": {"type": "point", "shape": "square", "filled": true, "opacity": 1, "size": 625},
"encoding": {
"x": {"field": "x", "type": "quantitative", "scale": {"domain": [-126, 2672], "nice": false, "zero": false}},
"y": {"field": "y", "type": "quantitative", "scale": {"domain": [-0.575, 34.8], "nice": false, "zero": false}},
"color": {"field": "s", "type": "nominal", "legend": null,
 "scale": {"domain": ["Site1","Site10","Site11","Site12","Site13","Site14"], "range": ["#D55E00","#0072B2","#CC79A7","#330066","#009E73","#56B4E9"]}}
}
},
{
"data": {"name": "obs"},
"transform": [{"filter": "datum.s === 'Site12'"}],
"mark": {"type": "point", "shape": "M-1,0H1M0,-1V1", "filled": false, "opacity": 1, "strokeWidth": 2, "size": 1369},
"encoding": {
"x": {"field": "x", "type": "quantitative", "scale": {"domain": [-126, 2672], "nice": false, "zero": false}},
"y": {"field": "y", "type": "quantitative", "scale": {"domain": [-0.575, 34.8], "nice": false, "zero": false}},
"color": {"field": "s", "type": "nominal", "legend": null,
 "scale": {"domain": ["Site1","Site10","Site11","Site12","Site13","Site14"], "range": ["#D55E00","#0072B2","#CC79A7","#330066","#009E73","#56B4E9"]}}
}
},
{
"data": {"name": "obs"},
"transform": [{"filter": "datum.s === 'Site13'"}],
"mark": {"type": "point", "shape": "M-1,-1H1V1H-1ZM-1,-1L1,1M1,-1L-1,1", "filled": false, "opacity": 1, "strokeWidth": 2, "size": 729},
"encoding": {
"x": {"field": "x", "type": "quantitative", "scale": {"domain": [-126, 2672], "nice": false, "zero": false}},
"y": {"field": "y", "type": "quantitative", "scale": {"domain": [-0.575, 34.8], "nice": false, "zero": false}},
"color": {"field": "s", "type": "nominal", "legend": null,
 "scale": {"domain": ["Site1","Site10","Site11","Site12","Site13","Site14"], "range": ["#D55E00","#0072B2","#CC79A7","#330066","#009E73","#56B4E9"]}}
}
},
{
"data": {"name": "obs"},
"transform": [{"filter": "datum.s === 'Site14'"}],
"mark": {"type": "point", "shape": "M-1,0H1M0,-1V1M-0.71,-0.71L0.71,0.71M0.71,-0.71L-0.71,0.71", "filled": false, "opacity": 1, "strokeWidth": 2, "size": 1369},
"encoding": {
"x": {"field": "x", "type": "quantitative", "scale": {"domain": [-126, 2672], "nice": false, "zero": false}},
"y": {"field": "y", "type": "quantitative", "scale": {"domain": [-0.575, 34.8], "nice": false, "zero": false}},
"color": {"field": "s", "type": "nominal", "legend": null,
 "scale": {"domain": ["Site1","Site10","Site11","Site12","Site13","Site14"], "range": ["#D55E00","#0072B2","#CC79A7","#330066","#009E73","#56B4E9"]}}
}
},
{
"data": {"name": "curves"},
"mark": {"type": "line", "strokeWidth": 7, "strokeCap": "butt"},
"encoding": {
"x": {"field": "x", "type": "quantitative", "scale": {"domain": [-126, 2672], "nice": false, "zero": false}},
"y": {"field": "y", "type": "quantitative", "scale": {"domain": [-0.575, 34.8], "nice": false, "zero": false}},
"stroke": {"field": "s", "type": "nominal",
 "scale": {"domain": ["Site1","Site10","Site11","Site12","Site13","Site14","Site15","Site16","Site17","Site18","Site19","Site2","Site20","Site21","Site22","Site23","Site24","Site25","Site26","Site27","Site28","Site29","Site3","Site30","Site31","Site32","Site4","Site5","Site6","Site7","Site8","Site9","zpad1","zpad2"],
  "range": ["#D55E00","#0072B2","#CC79A7","#330066","#009E73","#56B4E9","#E69F00","#999999","#F8766D","#EC823C","#DE8C00","#CD9600","#B79F00","#9DA700","#7CAE00","#49B500","#00BA38","#00BE67","#00C08B","#00C1AA","#00BFC4","#00BBDB","#00B4F0","#00A9FF","#619CFF","#9F8CFF","#C77CFF","#E36EF6","#F564E3","#FF61CC","#FF64B0","#FF6A98","rgba(0,0,0,0)","rgba(0,0,0,0)"]},
 "legend": {"title": null, "orient": "none", "direction": "vertical", "columns": 5, "symbolLimit": 40, "legendX": 98.7, "legendY": 504.6, "clipHeight": 38.8, "symbolSize": 6084, "symbolStrokeWidth": 2, "symbolOpacity": 1, "labelFont": "Liberation Sans", "labelFontSize": 32, "labelColor": "black", "labelOffset": 17, "labelLimit": 0, "columnPadding": 21.2, "rowPadding": 0, "padding": 0, "labelExpr": "indexof(datum.label, 'zpad') === 0 ? '' : datum.label"}},
"strokeDash": {"field": "m", "type": "nominal",
 "scale": {"domain": ["Rarefaction", "Extrapolation"], "range": [[1, 0], [14, 15]]},
 "legend": {"title": null, "orient": "none", "direction": "horizontal", "legendX": 321, "legendY": 401, "symbolType": "stroke", "symbolSize": 3906, "symbolStrokeWidth": 7, "symbolStrokeColor": "black", "labelFont": "Liberation Sans", "labelFontSize": 32, "labelColor": "black", "labelOffset": 26, "labelLimit": 0, "columnPadding": 10.5, "padding": 0}}
}
},
{
"data": {"name": "curves"},
"mark": {"type": "area"},
"encoding": {
"x": {"field": "x", "type": "quantitative", "scale": {"domain": [-126, 2672], "nice": false, "zero": false}},
"y": {"field": "lo", "type": "quantitative", "scale": {"domain": [-0.575, 34.8], "nice": false, "zero": false}},
"y2": {"field": "hi"},
"color": {"field": "s", "type": "nominal", "legend": null,
 "scale": {"domain": ["Site1","Site10","Site11","Site12","Site13","Site14","Site15","Site16","Site17","Site18","Site19","Site2","Site20","Site21","Site22","Site23","Site24","Site25","Site26","Site27","Site28","Site29","Site3","Site30","Site31","Site32","Site4","Site5","Site6","Site7","Site8","Site9"],
  "range": ["rgba(213,94,0,0.2)","rgba(0,114,178,0.2)","rgba(204,121,167,0.2)","rgba(51,0,102,0.2)","rgba(0,158,115,0.2)","rgba(86,180,233,0.2)","rgba(230,159,0,0.2)","rgba(153,153,153,0.2)","rgba(248,118,109,0.2)","rgba(236,130,60,0.2)","rgba(222,140,0,0.2)","rgba(205,150,0,0.2)","rgba(183,159,0,0.2)","rgba(157,167,0,0.2)","rgba(124,174,0,0.2)","rgba(73,181,0,0.2)","rgba(0,186,56,0.2)","rgba(0,190,103,0.2)","rgba(0,192,139,0.2)","rgba(0,193,170,0.2)","rgba(0,191,196,0.2)","rgba(0,187,219,0.2)","rgba(0,180,240,0.2)","rgba(0,169,255,0.2)","rgba(97,156,255,0.2)","rgba(159,140,255,0.2)","rgba(199,124,255,0.2)","rgba(227,110,246,0.2)","rgba(245,100,227,0.2)","rgba(255,97,204,0.2)","rgba(255,100,176,0.2)","rgba(255,106,152,0.2)"]}}
}
}
]
}
